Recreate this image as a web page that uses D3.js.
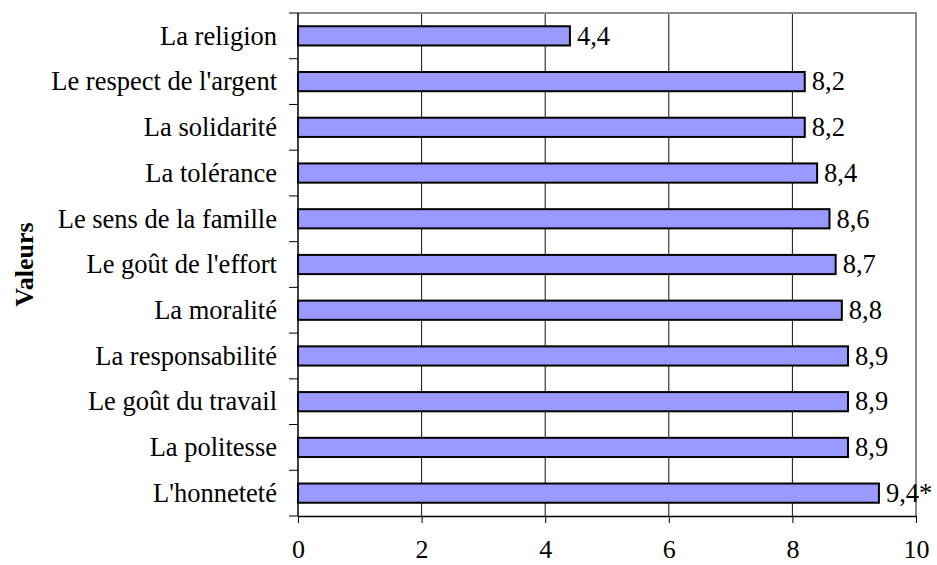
<!DOCTYPE html>
<html>
<head>
<meta charset="utf-8">
<script src="https://cdn.jsdelivr.net/npm/d3@7"></script>
<style>
  body { margin: 0; background: #fff; }
</style>
</head>
<body>
<div id="chart"></div>
<script>
// values, from top to bottom
var categories = ["La religion", "Le respect de l'argent", "La solidarité", "La tolérance",
  "Le sens de la famille", "Le goût de l'effort", "La moralité", "La responsabilité",
  "Le goût du travail", "La politesse", "L'honneteté"];
var values = [4.4, 8.2, 8.2, 8.4, 8.6, 8.7, 8.8, 8.9, 8.9, 8.9, 9.4];
var valueLabels = ["4,4", "8,2", "8,2", "8,4", "8,6", "8,7", "8,8", "8,9", "8,9", "8,9", "9,4*"];
var xTicks = [0, 2, 4, 6, 8, 10];
var axisTitle = "Valeurs";

var width = 937, height = 565;
var margin = {top: 13, right: 21, bottom: 49, left: 298};
var font = "'Liberation Serif', 'Times New Roman', serif";
var fsize = "26.5px";

var svg = d3.select("#chart").append("svg")
  .attr("width", width)
  .attr("height", height);

var x = d3.scaleLinear().domain([0, 10]).range([margin.left, width - margin.right]);
var y = d3.scaleBand().domain(categories).range([margin.top, height - margin.bottom]).paddingInner(0.58).paddingOuter(0.29);
var yb = d3.scaleBand().domain(categories).range([margin.top, height - margin.bottom]);

// vertical gridlines
svg.append("g")
  .selectAll("line")
  .data(xTicks.slice(1, -1))
  .join("line")
  .attr("x1", d => x(d)).attr("x2", d => x(d))
  .attr("y1", margin.top).attr("y2", height - margin.bottom)
  .attr("stroke", "#111")
  .attr("stroke-width", 1);

// top and right border
svg.append("path")
  .attr("d", "M" + x(0) + "," + margin.top + "H" + x(10) + "V" + (height - margin.bottom))
  .attr("fill", "none")
  .attr("stroke", "#8c8c8c").attr("stroke-width", 2);

// bars
svg.append("g")
  .selectAll("rect")
  .data(values)
  .join("rect")
  .attr("x", x(0))
  .attr("y", (d, i) => y(categories[i]))
  .attr("width", d => x(d) - x(0))
  .attr("height", y.bandwidth())
  .attr("fill", "#9999ff")
  .attr("stroke", "#000")
  .attr("stroke-width", 2);

// value labels
svg.append("g")
  .selectAll("text")
  .data(values)
  .join("text")
  .attr("x", d => x(d) + 7)
  .attr("y", (d, i) => y(categories[i]) + y.bandwidth() / 2)
  .attr("dy", "0.33em")
  .style("font-family", font)
  .style("font-size", fsize)
  .text((d, i) => valueLabels[i]);

// x axis
var xAxis = svg.append("g")
  .attr("transform", "translate(0," + (height - margin.bottom) + ")")
  .call(d3.axisBottom(x).tickValues(xTicks).tickFormat(d3.format("d")).tickSize(7).tickPadding(17).tickSizeOuter(0));
xAxis.select(".domain").attr("stroke", "#000").attr("stroke-width", 1.5);
xAxis.selectAll(".tick line").attr("stroke", "#000");
xAxis.selectAll("text").style("font-family", font).style("font-size", "26px").attr("fill", "#000");

// y axis, ticks sit between categories
var yAxis = svg.append("g")
  .attr("transform", "translate(" + margin.left + ",0)");
yAxis.append("line")
  .attr("y1", margin.top).attr("y2", height - margin.bottom)
  .attr("stroke", "#000").attr("stroke-width", 1.5);
yAxis.selectAll(".sep")
  .data(categories)
  .join("line")
  .attr("class", "sep")
  .attr("x1", -9).attr("x2", 0)
  .attr("y1", d => yb(d)).attr("y2", d => yb(d))
  .attr("stroke", "#000");
yAxis.append("line")
  .attr("x1", -9).attr("x2", 0)
  .attr("y1", height - margin.bottom).attr("y2", height - margin.bottom)
  .attr("stroke", "#000");
yAxis.selectAll(".lab")
  .data(categories)
  .join("text")
  .attr("class", "lab")
  .attr("x", -21)
  .attr("y", d => yb(d) + yb.bandwidth() / 2)
  .attr("dy", "0.33em")
  .attr("text-anchor", "end")
  .style("font-family", font)
  .style("font-size", fsize)
  .text(d => d);

// axis title
svg.append("text")
  .attr("transform", "translate(33," + ((margin.top + height - margin.bottom) / 2) + ") rotate(-90)")
  .attr("text-anchor", "middle")
  .style("font-family", font)
  .style("font-size", "26px")
  .style("font-weight", "bold")
  .text(axisTitle);
</script>
</body>
</html>
